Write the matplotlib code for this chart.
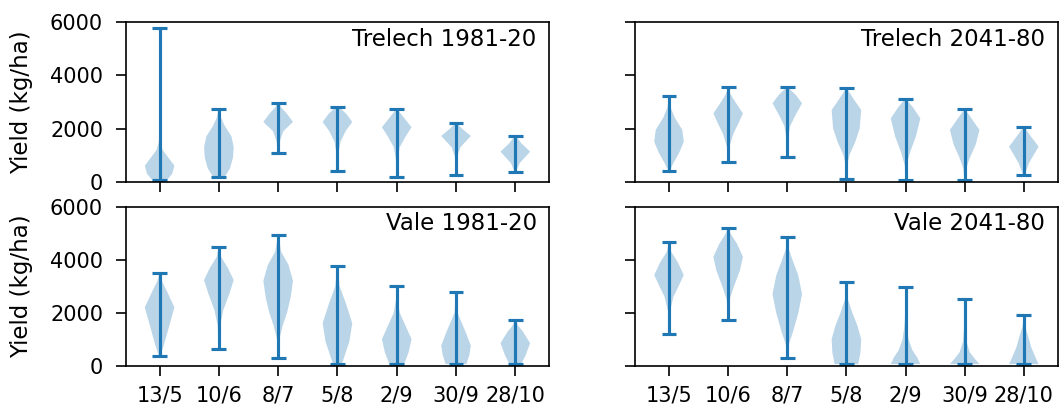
import numpy as np
import matplotlib.pyplot as plt

dates = ["13/5", "10/6", "8/7", "5/8", "2/9", "30/9", "28/10"]

# each violin: yield levels (kg/ha) from min to max, and the relative width there
trelech_hist_y = [
    [60, 300, 600, 900, 1200, 1500, 2000, 5780],
    [190, 500, 900, 1300, 1700, 2100, 2400, 2720],
    [1065, 1500, 1900, 2250, 2550, 2800, 2975],
    [415, 1000, 1500, 1900, 2250, 2550, 2820],
    [160, 800, 1300, 1700, 2050, 2400, 2720],
    [250, 900, 1300, 1720, 2000, 2195],
    [375, 700, 1130, 1450, 1720],
]
trelech_hist_w = [
    [0.5, 0.85, 1.0, 0.6, 0.2, 0.05, 0.01, 0.0],
    [0.4, 0.75, 0.95, 1.0, 0.85, 0.4, 0.15, 0.03],
    [0.03, 0.1, 0.35, 1.0, 0.6, 0.2, 0.05],
    [0.02, 0.05, 0.2, 0.55, 1.0, 0.6, 0.1],
    [0.02, 0.05, 0.2, 0.6, 1.0, 0.5, 0.05],
    [0.02, 0.05, 0.3, 1.0, 0.4, 0.05],
    [0.05, 0.3, 1.0, 0.4, 0.05],
]

trelech_fut_y = [
    [415, 700, 1100, 1500, 1950, 2400, 2800, 3225],
    [730, 1300, 1800, 2200, 2570, 2900, 3300, 3550],
    [940, 1600, 2100, 2500, 2950, 3250, 3550],
    [90, 600, 1000, 1500, 2000, 2700, 3100, 3515],
    [60, 600, 1100, 1700, 2380, 2800, 3110],
    [60, 500, 900, 1400, 1950, 2350, 2720],
    [250, 700, 1320, 1800, 2070],
]
trelech_fut_w = [
    [0.05, 0.3, 0.7, 1.0, 0.9, 0.4, 0.1, 0.02],
    [0.02, 0.08, 0.35, 0.7, 1.0, 0.6, 0.15, 0.02],
    [0.02, 0.05, 0.2, 0.55, 1.0, 0.6, 0.05],
    [0.02, 0.05, 0.2, 0.6, 0.9, 1.0, 0.5, 0.03],
    [0.02, 0.05, 0.3, 0.7, 1.0, 0.5, 0.03],
    [0.03, 0.1, 0.35, 0.75, 1.0, 0.5, 0.03],
    [0.05, 0.35, 1.0, 0.35, 0.03],
]

vale_hist_y = [
    [365, 800, 1400, 2200, 2800, 3200, 3480],
    [615, 1500, 2100, 2700, 3230, 3700, 4100, 4465],
    [300, 1000, 1500, 2000, 2600, 3200, 3800, 4300, 4930],
    [60, 400, 900, 1600, 2300, 3000, 3760],
    [60, 500, 1000, 1500, 2000, 2500, 3020],
    [60, 400, 750, 1200, 1600, 2000, 2770],
    [60, 400, 850, 1300, 1500, 1720],
]
vale_hist_w = [
    [0.05, 0.3, 0.6, 1.0, 0.5, 0.15, 0.02],
    [0.02, 0.08, 0.3, 0.7, 1.0, 0.6, 0.15, 0.02],
    [0.02, 0.08, 0.3, 0.6, 0.85, 1.0, 0.7, 0.2, 0.02],
    [0.3, 0.5, 0.8, 1.0, 0.6, 0.15, 0.02],
    [0.5, 0.8, 1.0, 0.6, 0.2, 0.05, 0.01],
    [0.7, 0.9, 1.0, 0.7, 0.4, 0.1, 0.01],
    [0.4, 0.7, 1.0, 0.5, 0.2, 0.02],
]

vale_fut_y = [
    [1195, 2000, 2600, 3000, 3420, 3900, 4300, 4655],
    [1720, 2500, 3000, 3600, 4110, 4600, 4950, 5180],
    [275, 800, 1300, 2000, 2700, 3400, 4000, 4400, 4870],
    [60, 500, 1000, 1500, 2000, 2500, 3170],
    [60, 300, 600, 1000, 1500, 2000, 2955],
    [60, 250, 500, 900, 1500, 2500],
    [60, 300, 700, 1100, 1500, 1910],
]
vale_fut_w = [
    [0.02, 0.05, 0.3, 0.65, 1.0, 0.6, 0.15, 0.02],
    [0.02, 0.1, 0.4, 0.8, 1.0, 0.6, 0.2, 0.02],
    [0.02, 0.1, 0.4, 0.75, 1.0, 0.75, 0.35, 0.1, 0.02],
    [0.8, 0.95, 1.0, 0.75, 0.4, 0.1, 0.01],
    [1.0, 0.8, 0.45, 0.2, 0.08, 0.02, 0.0],
    [1.0, 0.7, 0.35, 0.12, 0.03, 0.0],
    [1.0, 0.8, 0.5, 0.3, 0.08, 0.01],
]

titles = ["Trelech 1981-20", "Trelech 2041-80", "Vale 1981-20", "Vale 2041-80"]
shapes = [
    (trelech_hist_y, trelech_hist_w),
    (trelech_fut_y, trelech_fut_w),
    (vale_hist_y, vale_hist_w),
    (vale_fut_y, vale_fut_w),
]

fig, axs = plt.subplots(2, 2, sharex=True, sharey=True,
                        figsize=(1061 / 150, 408 / 150), dpi=150)
pos = np.arange(1, len(dates) + 1)

# axes boxes (left, bottom, width, height) in figure fractions
boxes = [
    [0.1183, 0.5547, 0.3995, 0.3907],
    [0.5985, 0.5547, 0.3985, 0.3907],
    [0.1183, 0.1037, 0.3995, 0.3897],
    [0.5985, 0.1037, 0.3985, 0.3897],
]

for ax, title, (ys, ws), box in zip(axs.flat, titles, shapes, boxes):
    stats = []
    for y, w in zip(ys, ws):
        stats.append(dict(coords=np.array(y, float), vals=np.array(w, float),
                          min=y[0], max=y[-1], mean=np.nan, median=np.nan))
    ax.violin(stats, positions=pos)
    ax.text(0.97, 0.965, title, transform=ax.transAxes, ha="right", va="top",
            fontsize=11)
    ax.tick_params(axis="y", length=4.8, pad=6)
    ax.tick_params(axis="x", length=4.8, pad=4.5)
    ax.set_position(box)

axs[0, 0].set_ylim(0, 6000)
axs[0, 0].set_yticks([0, 2000, 4000, 6000])
axs[0, 0].set_xticks(pos)
axs[1, 0].set_xticklabels(dates)
axs[1, 1].set_xticklabels(dates)
axs[0, 0].set_ylabel("Yield (kg/ha)", fontsize=11, labelpad=8)
axs[1, 0].set_ylabel("Yield (kg/ha)", fontsize=11, labelpad=8)

fig.savefig("out.png", dpi=150)
